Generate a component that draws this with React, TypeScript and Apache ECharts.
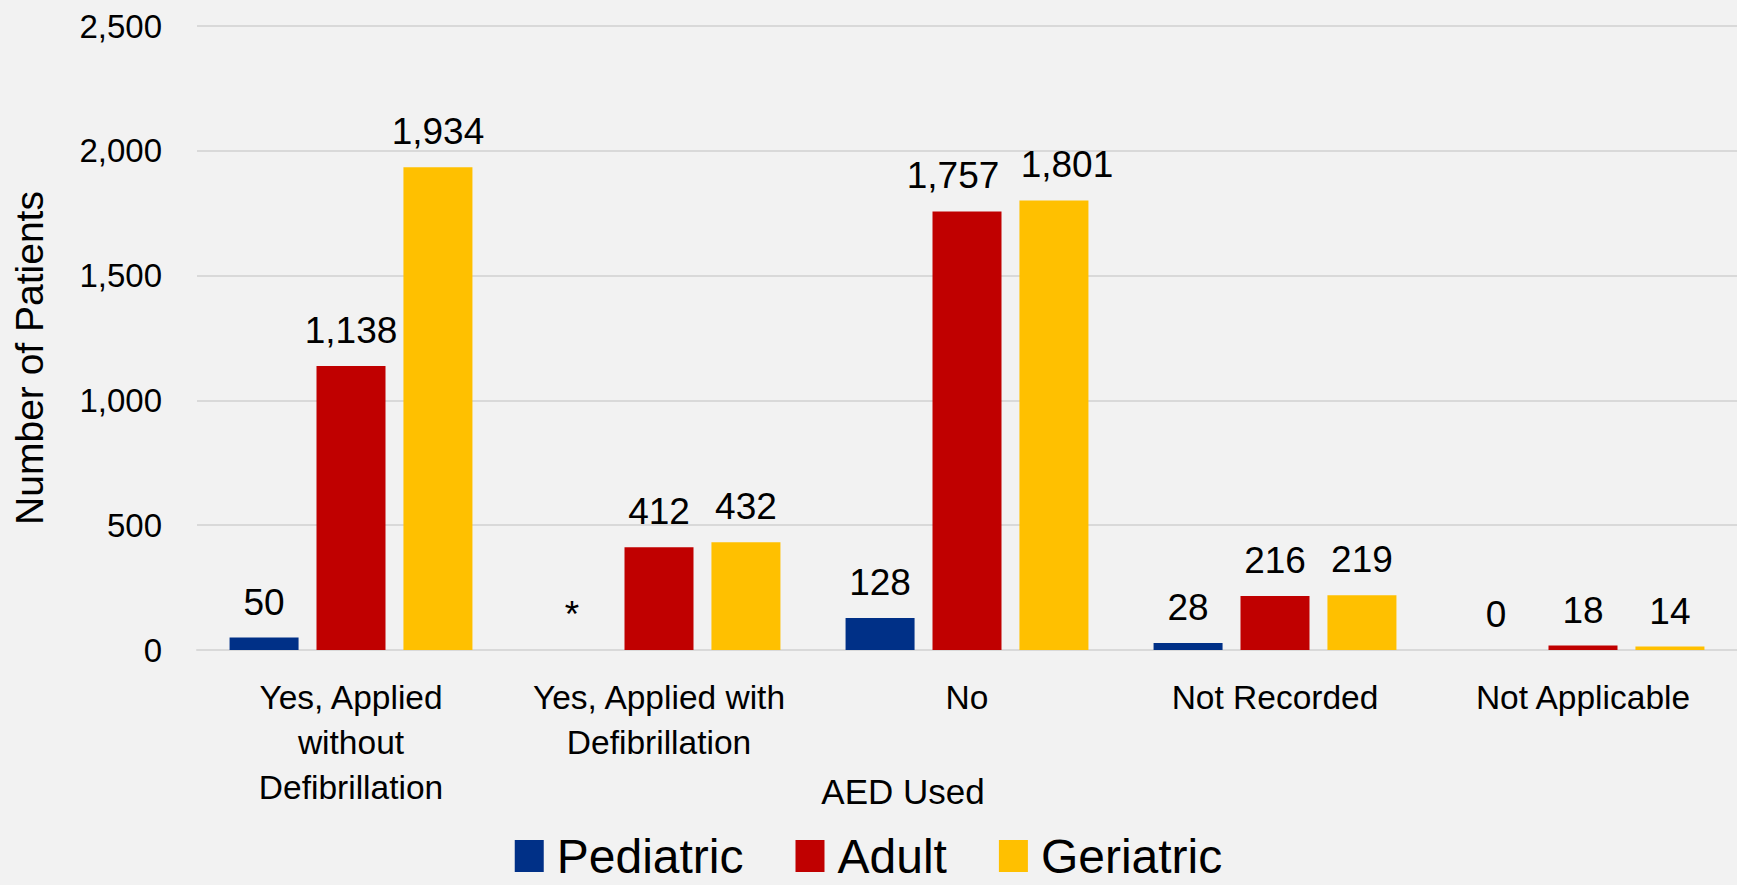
import React, { useEffect, useRef } from "react";
import * as echarts from "echarts";

const categories = [
  "Yes, Applied\nwithout\nDefibrillation",
  "Yes, Applied with\nDefibrillation",
  "No",
  "Not Recorded",
  "Not Applicable",
];
const seriesNames = ["Pediatric", "Adult", "Geriatric"];
const pediatric = [50, 0, 128, 28, 0];
const pediatricLabels = ["50", "*", "128", "28", "0"];
const adult = [1138, 412, 1757, 216, 18];
const geriatric = [1934, 432, 1801, 219, 14];
const colors = ["#003087", "#C00000", "#FFC000"];
const yTicks = { min: 0, max: 2500, interval: 500 };
const xAxisTitle = "AED Used";
const yAxisTitle = "Number of Patients";

// manual label nudges (as in the original, labels moved apart where crowded)
const adultLabelShift: Record<number, number> = { 2: -14 };
const geriatricLabelShift: Record<number, number> = { 2: 13 };

const FONT = "'Liberation Sans', Arial, sans-serif";
const fmt = (v: number) => v.toLocaleString("en-US");

export default function App() {
  const ref = useRef<HTMLDivElement>(null);
  useEffect(() => {
    document.body.style.margin = "0";
    if (!ref.current) return;
    const chart = echarts.init(ref.current, undefined, { renderer: "svg" });
    const labelBase = {
      show: true,
      position: "top",
      distance: 17,
      fontSize: 37,
      lineHeight: 37,
      color: "#000",
      fontFamily: FONT,
    };
    const mk = (
      name: string,
      data: number[],
      color: string,
      labels?: string[],
      shift?: Record<number, number>
    ) => ({
      name,
      type: "bar",
      data: data.map((v, i) =>
        shift && shift[i] !== undefined
          ? { value: v, label: { offset: [shift[i], 0] } }
          : v
      ),
      barWidth: 69,
      barGap: "26%",
      itemStyle: { color },
      label: {
        ...labelBase,
        formatter: (p: any) => (labels ? labels[p.dataIndex] : fmt(p.value)),
      },
    });
    chart.setOption({
      animation: false,
      backgroundColor: "#F2F2F2",
      textStyle: { fontFamily: FONT },
      grid: { left: 197, right: 0, top: 26, bottom: 235, containLabel: false },
      legend: {
        data: seriesNames,
        bottom: 5,
        left: "center",
        padding: 0,
        itemWidth: 29,
        itemHeight: 32,
        itemGap: 52,
        icon: "rect",
        textStyle: {
          fontSize: 48,
          lineHeight: 48,
          color: "#000",
          fontFamily: FONT,
          padding: [0, 0, 0, 8],
        },
      },
      xAxis: {
        type: "category",
        data: categories,
        axisLine: { show: true, lineStyle: { color: "#D9D9D9", width: 2 } },
        axisTick: { show: false },
        axisLabel: {
          fontSize: 33.5,
          lineHeight: 45,
          color: "#000",
          margin: 25,
          interval: 0,
          fontFamily: FONT,
        },
      },
      yAxis: {
        type: "value",
        min: yTicks.min,
        max: yTicks.max,
        interval: yTicks.interval,
        axisLine: { show: false },
        axisTick: { show: false },
        splitLine: { lineStyle: { color: "#D9D9D9", width: 2 } },
        axisLabel: {
          fontSize: 33,
          color: "#000",
          margin: 35,
          fontFamily: FONT,
          formatter: (v: number) => fmt(v),
        },
      },
      graphic: [
        {
          type: "text",
          x: 29,
          y: 358,
          rotation: Math.PI / 2,
          style: {
            text: yAxisTitle,
            fontSize: 39,
            fontFamily: FONT,
            fill: "#000",
            textAlign: "center",
            textVerticalAlign: "middle",
          },
        },
        {
          type: "text",
          x: 903,
          y: 791,
          style: {
            text: xAxisTitle,
            fontSize: 35,
            fontFamily: FONT,
            fill: "#000",
            textAlign: "center",
            textVerticalAlign: "middle",
          },
        },
      ],
      series: [
        mk(seriesNames[0], pediatric, colors[0], pediatricLabels),
        mk(seriesNames[1], adult, colors[1], undefined, adultLabelShift),
        mk(seriesNames[2], geriatric, colors[2], undefined, geriatricLabelShift),
      ],
    });
    return () => chart.dispose();
  }, []);
  return <div ref={ref} style={{ width: 1737, height: 885 }} />;
}
